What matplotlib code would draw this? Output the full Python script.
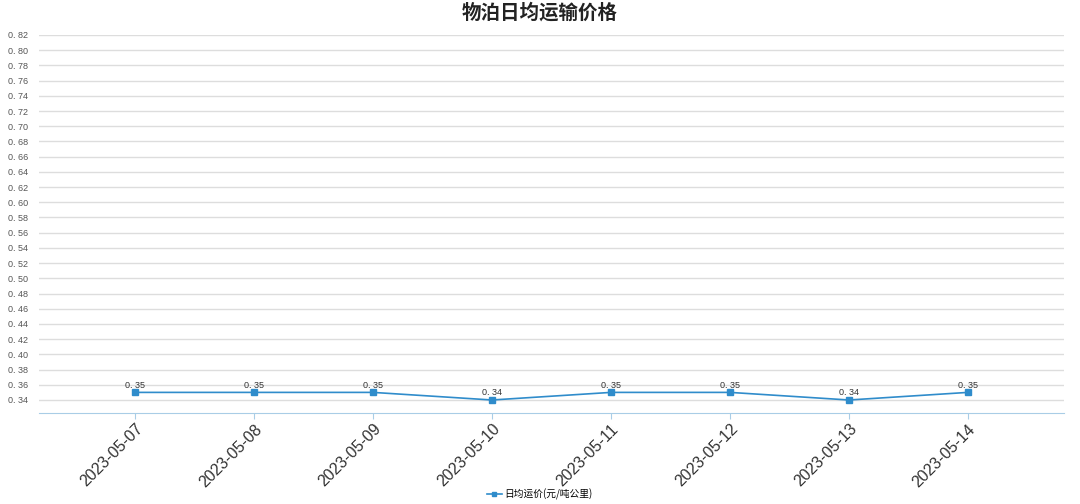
import matplotlib
matplotlib.use("Agg")
import matplotlib.pyplot as plt
import numpy as np

plt.rcParams['font.family'] = ['Noto Sans CJK SC', 'DejaVu Sans']

# Data
dates = ['2023-05-07', '2023-05-08', '2023-05-09', '2023-05-10',
         '2023-05-11', '2023-05-12', '2023-05-13', '2023-05-14']
price = [0.35, 0.35, 0.35, 0.34, 0.35, 0.35, 0.34, 0.35]
yticks = [round(0.34 + 0.02 * i, 2) for i in range(25)]

line_color = '#2f8ccb'

fig = plt.figure(figsize=(10.8, 5.04), dpi=100)
ax = fig.add_axes([39 / 1080, 1 - 413 / 504, (1064 - 39) / 1080, (413 - 35) / 504])

x = np.arange(len(dates))
ax.plot(x, price, color=line_color, linewidth=1.2, marker='s', markersize=4,
        label='日均运价(元/吨公里)')
for xi, v in zip(x, price):
    ax.annotate(f'{v:.2f}'.replace('.', '. '), (xi, v), xytext=(0, 2),
                textcoords='offset points', ha='center', va='bottom',
                fontsize=6.5, color='#333333', family='Liberation Sans')

ax.set_xlim(-0.807, len(dates) - 1 + 0.807)
ax.set_ylim(0.3229, 0.82)
ax.set_yticks(yticks)
ax.set_yticklabels([f'{t:.2f}'.replace('.', '. ') for t in yticks],
                   fontsize=6.5, color='#555555', family='Liberation Sans')
ax.set_xticks(x)
ax.set_xticklabels(dates, rotation=45, ha='right', rotation_mode='anchor',
                   fontsize=11.5, color='#333333', family='Liberation Sans')

ax.grid(axis='y', color='#dddddd', linewidth=1)
ax.set_axisbelow(True)
for s in ['top', 'right', 'left']:
    ax.spines[s].set_visible(False)
ax.spines['bottom'].set_color('#a9cde6')
ax.tick_params(axis='y', length=0, pad=8)
ax.tick_params(axis='x', length=4, color='#a9cde6', pad=2)

fig.text(0.5, 1 - 13 / 504, '物泊日均运输价格', ha='center', va='center',
         fontsize=14, fontweight='bold', color='#222222')

fig.legend(loc='center', bbox_to_anchor=(0.5, 1 - 494 / 504), frameon=False,
           fontsize=7, handlelength=1.5, handletextpad=0.3, markerscale=0.8)

fig.savefig('out.png', dpi=100)
